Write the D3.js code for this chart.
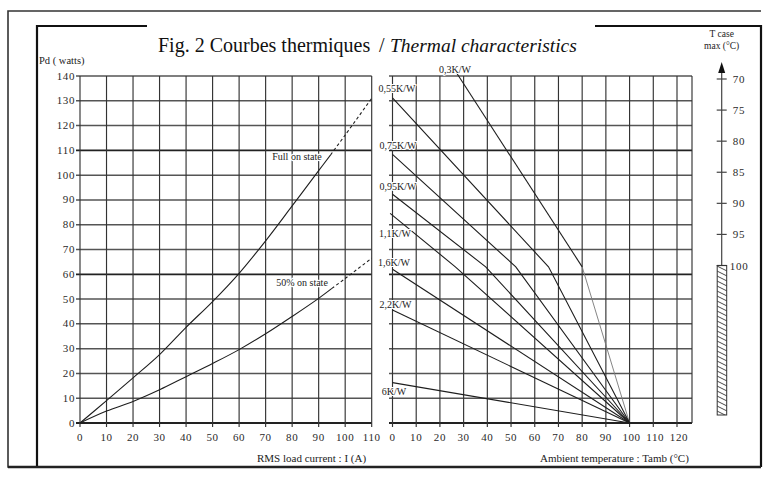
<!DOCTYPE html>
<html><head><meta charset="utf-8">
<script src="https://cdn.jsdelivr.net/npm/d3@7"></script>
<style>
html,body{margin:0;padding:0;background:#fff;}
svg{display:block;font-family:"Liberation Serif","Times New Roman",serif;}
</style></head>
<body>
<svg id="c" width="777" height="480"></svg>
<script>
// ---------- data ----------
const currentTicks = [0,10,20,30,40,50,60,70,80,90,100,110];
const tambTicks = [0,10,20,30,40,50,60,70,80,90,100,110,120];
const pdTicks = [0,10,20,30,40,50,60,70,80,90,100,110,120,130,140];
const tcaseTicks = [70,75,80,85,90,95,100];

// Pd (W) vs RMS current (A)
const fullSolid = [[0,0],[10,9],[20,18.2],[30,27.6],[40,38.6],[50,49],[60,60.4],[70,73.5],[80,87.6],[90,101.8],[94.5,108.2]];
const fullDashed = [[94.5,108.2],[100,116.2],[110,131]];
const halfSolid = [[0,0],[10,4.8],[20,8.7],[30,13.4],[40,18.7],[50,24],[60,29.6],[70,36],[80,43],[90,50.3],[95,54.3]];
const halfDashed = [[95,54.3],[100,58.3],[110,66.5]];

// Pd (W) vs ambient temperature for each thermal resistance
const rthLabels = ["0,3K/W","0,55K/W","0,75K/W","0,95K/W","1,1K/W","1,6K/W","2,2K/W","6K/W"];
const rthLines = [
  [[25.5,143.5],[80,63],[100,0]],
  [[0,131.2],[65.8,63],[100,0]],
  [[0,108.4],[52,63],[100,0]],
  [[0,92.3],[39.3,63],[100,0]],
  [[-1,84.6],[26.5,63],[100,0]],
  [[0,62],[100,0]],
  [[0,45.6],[100,0]],
  [[0,16.3],[100,0]]
];
const tcaseLimit = 100;

// ---------- layout ----------
const svg = d3.select("#c");
const xL = d3.scaleLinear().domain([0,110]).range([80,371.7]);
const xR = d3.scaleLinear().domain([0,120]).range([392.5,677]);
const y = d3.scaleLinear().domain([0,140]).range([423,76]);
const yT = d3.scaleLinear().domain([70,100]).range([79,265.5]);
const rightEdge = 692;
const ink = "#1e1e1e";

// frames
const fr = svg.append("g").attr("fill","none").attr("stroke","#333");
fr.append("path").attr("d","M761,11H8V467H761").attr("stroke-width",1.6);
fr.append("path").attr("d","M147,26H37V467").attr("stroke","#111").attr("stroke-width",2.2);
fr.append("path").attr("d","M595,26H761V467").attr("stroke","#111").attr("stroke-width",2.2);
fr.append("line").attr("x1",8).attr("x2",761).attr("y1",467).attr("y2",467).attr("stroke","#222").attr("stroke-width",2.4);

// grid
const g = svg.append("g").attr("fill","none");
pdTicks.forEach(v=>{
  const bold = (v===110||v===60||v===0);
  [[76,xL(110)],[389,rightEdge]].forEach(([a,b])=>{
    g.append("line").attr("x1",a).attr("x2",b).attr("y1",y(v)).attr("y2",y(v))
      .attr("stroke", bold?"#222":"#555").attr("stroke-width", bold?1.8:1.5);
  });
});
currentTicks.forEach(v=>{
  g.append("line").attr("x1",xL(v)).attr("x2",xL(v)).attr("y1",y(140)).attr("y2",y(0)+4)
    .attr("stroke","#333").attr("stroke-width",1.15);
});
tambTicks.forEach(v=>{
  g.append("line").attr("x1",xR(v)).attr("x2",xR(v)).attr("y1",y(140)).attr("y2",y(0)+4)
    .attr("stroke","#333").attr("stroke-width",1.15);
});
g.append("line").attr("x1",rightEdge).attr("x2",rightEdge).attr("y1",y(140)).attr("y2",y(0))
  .attr("stroke","#333").attr("stroke-width",1.15);

// tick labels
const tl = svg.append("g").attr("fill","#2a2a2a").attr("font-size",11).attr("letter-spacing",0.6);
pdTicks.forEach(v=>{
  tl.append("text").attr("x",75).attr("y",y(v)+3.5).attr("text-anchor","end").text(v);
});
currentTicks.forEach(v=>{
  tl.append("text").attr("x",xL(v)).attr("y",441).attr("text-anchor","middle").text(v);
});
tambTicks.forEach(v=>{
  tl.append("text").attr("x",xR(v)+ (v>=100?2:0)).attr("y",441).attr("text-anchor","middle").text(v);
});

// axis titles
const at = svg.append("g").attr("fill","#222");
at.append("text").attr("x",39).attr("y",64).attr("font-size",10.5).text("Pd ( watts)");
at.append("text").attr("x",257).attr("y",462).attr("font-size",11).text("RMS load current : I (A)");
at.append("text").attr("x",540).attr("y",462).attr("font-size",11).text("Ambient temperature : Tamb (°C)");

// title
const tg = svg.append("g").attr("fill","#111");
tg.append("text").attr("x",158).attr("y",52).attr("font-size",20).text("Fig. 2 Courbes thermiques");
tg.append("text").attr("x",379).attr("y",52).attr("font-size",20).text("/");
tg.append("text").attr("x",390).attr("y",52).attr("font-style","italic").attr("font-size",19.5).text("Thermal characteristics");

// left curves
const lineL = d3.line().x(d=>xL(d[0])).y(d=>y(d[1])).curve(d3.curveCatmullRom);
const cv = svg.append("g").attr("fill","none").attr("stroke",ink).attr("stroke-width",1.1);
cv.append("path").attr("d",lineL(fullSolid));
cv.append("path").attr("d",lineL(fullDashed)).attr("stroke-dasharray","3,2.5");
cv.append("path").attr("d",lineL(halfSolid));
cv.append("path").attr("d",lineL(halfDashed)).attr("stroke-dasharray","3,2.5");
const cl = svg.append("g").attr("fill","#222").attr("font-size",10).attr("text-anchor","middle")
  .attr("stroke","#fff").attr("stroke-width",2.5).attr("paint-order","stroke");
cl.append("text").attr("x",297).attr("y",160).text("Full on state");
cl.append("text").attr("x",302).attr("y",286).text("50% on state");

// right lines
const lineR = d3.line().x(d=>xR(d[0])).y(d=>y(d[1]));
const rl = svg.append("g").attr("fill","none").attr("stroke",ink).attr("stroke-width",1.1);
rthLines.forEach((pts,i)=>{
  if(i===0){
    rl.append("path").attr("d",lineR(pts.slice(0,2)));
    rl.append("path").attr("d",lineR(pts.slice(1))).attr("stroke","#777").attr("stroke-width",0.9);
  } else rl.append("path").attr("d",lineR(pts));
});
const labelPos = [[455,73],[397,92],[398,148.5],[398,190],[395,237],[394,266],[395.5,308],[394,395]];
const rlab = svg.append("g").attr("fill","#222").attr("font-size",10).attr("text-anchor","middle")
  .attr("stroke","#fff").attr("stroke-width",2).attr("paint-order","stroke");
rthLabels.forEach((t,i)=>{
  rlab.append("text").attr("x",labelPos[i][0]).attr("y",labelPos[i][1]).text(t);
});

// T case scale
const tx = 721.7;
const ts = svg.append("g");
ts.append("text").attr("x",tx).attr("y",37).attr("font-size",9.5).attr("text-anchor","middle").attr("fill","#222").text("T case");
ts.append("text").attr("x",tx).attr("y",49).attr("font-size",9.5).attr("text-anchor","middle").attr("fill","#222").text("max (°C)");
ts.append("line").attr("x1",tx).attr("x2",tx).attr("y1",yT(70)-10).attr("y2",yT(100)).attr("stroke","#444").attr("stroke-width",1.2);
ts.append("path").attr("d",`M${tx},${yT(70)-17}L${tx-3.5},${yT(70)-6}L${tx+3.5},${yT(70)-6}Z`).attr("fill","#111");
tcaseTicks.forEach(v=>{
  ts.append("line").attr("x1",tx-5).attr("x2",tx+5).attr("y1",yT(v)).attr("y2",yT(v)).attr("stroke","#444").attr("stroke-width",1.2);
  ts.append("text").attr("x",v===100?tx+8:tx+11).attr("y",yT(v)+4).attr("font-size",11).attr("letter-spacing",0.8)
    .attr("fill","#2a2a2a").text(v);
});
// hatched bar (above the case temperature limit)
const defs = svg.append("defs");
const pat = defs.append("pattern").attr("id","hatch").attr("patternUnits","userSpaceOnUse")
  .attr("width",10).attr("height",5);
pat.append("path").attr("d","M0,-2.5L10,2.5M0,2.5L10,7.5").attr("stroke","#333").attr("stroke-width",0.9);
ts.append("rect").attr("x",tx-4.5).attr("y",yT(tcaseLimit)).attr("width",9.5).attr("height",415-yT(tcaseLimit))
  .attr("fill","url(#hatch)").attr("stroke","#333").attr("stroke-width",1);
</script>
</body></html>
